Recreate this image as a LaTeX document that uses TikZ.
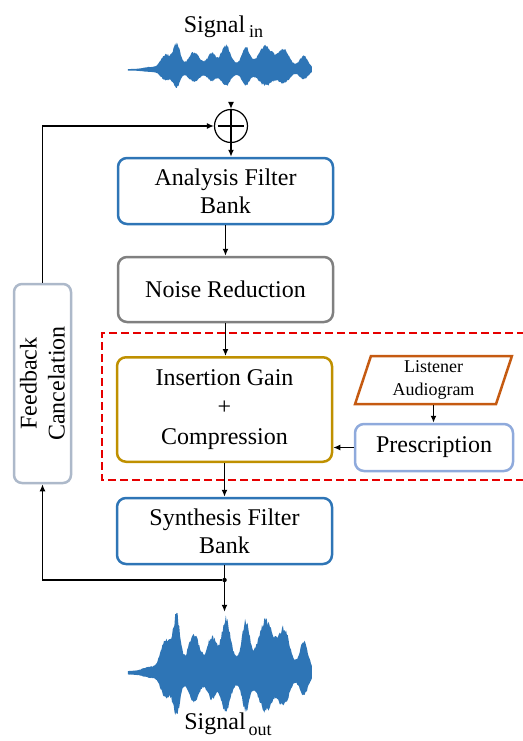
\documentclass[tikz,border=0pt]{standalone}
\usepackage{fontspec}
\setmainfont{Liberation Serif}
\usepackage{tikz}
\usetikzlibrary{shapes.geometric,arrows.meta}
\usepackage{xcolor}
\definecolor{graphblue}{RGB}{46,117,182}
\definecolor{graphgray}{RGB}{128,128,128}
\definecolor{graphgold}{RGB}{191,144,0}
\definecolor{graphorange}{RGB}{197,90,17}
\definecolor{graphlightblue}{RGB}{143,170,220}
\definecolor{graphslate}{RGB}{173,185,202}
\definecolor{graphred}{RGB}{230,0,0}

\begin{document}
\begin{tikzpicture}
[
x=1pt, y=-1pt, node distance=100pt, >={Latex[length=7pt,width=6pt]},
declare function={bump(\x,\c,\w)=exp(-min((((\x-\c)/\w)^2),30));
  wenv(\x)=1+2*bump(\x,22,9)+15*bump(\x,38,7)+25*bump(\x,49,5)+16*bump(\x,66,8)+13*bump(\x,84,6)+20*bump(\x,98,6)+18*bump(\x,118,5)+20*bump(\x,138,9)+18*bump(\x,156,8)+13*bump(\x,176,6)+6*bump(\x,115,45);},
graph box/.style={rectangle,rounded corners=9pt,line width=2.5pt,align=center,font=\fontsize{24}{28}\selectfont,minimum width=215pt,minimum height=66pt,inner sep=0pt},
graph bluebox/.style={graph box,draw=graphblue},
graph graybox/.style={graph box,draw=graphgray,minimum height=65pt},
graph goldbox/.style={graph box,draw=graphgold,minimum height=104.5pt,font=\fontsize{24}{29.5}\selectfont},
graph lightbox/.style={graph box,draw=graphlightblue,minimum width=158pt,minimum height=47pt},
graph slatebox/.style={graph box,draw=graphslate,rounded corners=8pt,minimum width=199pt,minimum height=57pt},
graph datain/.style={trapezium,trapezium left angle=75,trapezium right angle=105,trapezium stretches=true,draw=graphorange,line width=2.5pt,align=center,font=\fontsize{18}{23}\selectfont,minimum width=157pt,minimum height=48pt,inner sep=0pt},
graph sum/.style={circle,draw,line width=1.2pt,minimum size=33pt,inner sep=0pt},
graph dot/.style={circle,fill,minimum size=4.5pt,inner sep=0pt},
graph wave/.style={inner sep=0pt,minimum width=184pt},
graph signaltext/.style={font=\fontsize{24}{28}\selectfont},
graph arrow/.style={->,line width=1.6pt},
graph line/.style={line width=1.6pt},
graph dashedframe/.style={draw=graphred,line width=2.5pt,dash pattern=on 8pt off 4pt}
]
\useasboundingbox (0,0) rectangle (522,741);

% main chain
\node[graph bluebox] (ana) at (225.5,191) {Analysis Filter\\Bank};
\node[graph graybox, below of=ana, yshift=1.5pt] (noise) {Noise Reduction};
\node[graph goldbox, below of=noise, yshift=-20pt, xshift=-1pt] (ins) {Insertion Gain\\+\\Compression};
\node[graph bluebox, below of=ins, yshift=-21.5pt] (syn) {Synthesis Filter\\Bank};

% input side
\node[graph sum, above of=ana, yshift=-35pt, xshift=5.5pt] (sum) {};
\draw[graph line, line width=1.2pt, shorten <=4pt, shorten >=4pt] (sum.north) -- (sum.south) (sum.west) -- (sum.east);
\node[graph wave, minimum height=48pt, above of=sum, yshift=-44pt, xshift=-11pt] (win) {};
\node[graph signaltext, above of=win, yshift=-56.5pt, xshift=3.5pt] (sigin) {Signal\hspace{4pt}\raisebox{-5pt}{\fontsize{18}{18}\selectfont in}};

% prescription
\node[graph datain, right of=ins, xshift=109pt, yshift=29.5pt] (listen) {Listener\\Audiogram};
\node[graph lightbox, below of=listen, yshift=32.5pt, xshift=0.5pt] (presc) {Prescription};

% feedback path
\node[graph slatebox, left of=ins, xshift=-82pt, yshift=26pt, rotate=90] (fb) {Feedback\\Cancelation};

% output side
\node[graph dot, below of=syn, yshift=51pt] (split) {};
\node[graph wave, minimum height=122pt, below of=syn, yshift=-42pt, xshift=-4.5pt] (wout) {};
\node[graph signaltext, below of=wout, yshift=49pt, xshift=8pt] (sigout) {Signal\hspace{3pt}\raisebox{-6pt}{\fontsize{18}{18}\selectfont out}};

% waveforms
\pgfmathsetseed{3}
\fill[graphblue, shift={(win.west)}] plot[domain=0:184, samples=230] (\x, {-wenv(\x)*(0.86+0.14*rnd)}) -- plot[domain=184:0, samples=230] (\x, {0.65*wenv(\x)*(0.86+0.14*rnd)}) -- cycle;
\fill[graphblue, shift={(wout.west)}, yscale=2.2] plot[domain=0:184, samples=230] (\x, {-wenv(\x)*(0.86+0.14*rnd)}) -- plot[domain=184:0, samples=230] (\x, {0.72*wenv(\x)*(0.86+0.14*rnd)}) -- cycle;

% arrows
\draw[graph arrow, shorten <=8pt] (win.south -| sum.north) -- (sum.north);
\draw[graph arrow] (sum.south) -- (sum.south |- ana.north);
\draw[graph arrow] (ana) -- (noise);
\draw[graph arrow] (noise.south) -- (noise.south |- ins.north);
\draw[graph arrow] (ins) -- (syn);
\draw[graph line] (syn.south) -- (split);
\draw[graph arrow] (split) -- (split |- wout.north);
\draw[graph arrow] (split) -| (fb.west);
\draw[graph arrow] (fb.east) |- (sum.west);
\draw[graph arrow] (listen.south) -- (listen.south |- presc.north);
\draw[graph arrow] (presc.west) -- (presc.west -| ins.east);

% fitting band
\draw[graph dashedframe] (525,333) -| (102,480) -- (525,480);

\end{tikzpicture}
\end{document}
